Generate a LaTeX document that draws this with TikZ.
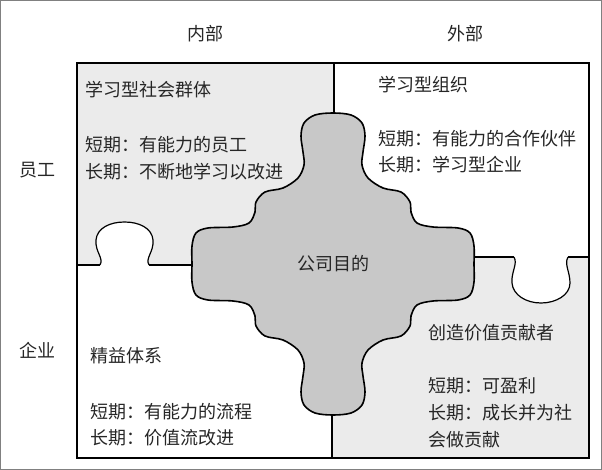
\documentclass[tikz,border=0pt]{standalone}
\usepackage{fontspec}
\setmainfont{Noto Sans CJK SC}
\definecolor{paneGray}{HTML}{EBEBEB}
\definecolor{blobGray}{HTML}{C8C8C8}
\begin{document}
\begin{tikzpicture}[x=1pt,y=-1pt,
  txt/.style={anchor=west, inner sep=0pt, text=black!85, font=\fontsize{18}{18}\selectfont},
  hdr/.style={inner sep=0pt, text=black!85, font=\fontsize{18}{18}\selectfont},
  edge/.style={draw=black, line width=1.2pt}]
\useasboundingbox (0,0) rectangle (602,470);
\draw[gray, line width=1.2pt] (0.6,0.6) rectangle (601.4,469.4);
% shaded quarters
\fill[paneGray] (77,63) rectangle (334,265);
\fill[paneGray] (332,257) rectangle (589,458);
% tab of the lower left quarter
\filldraw[fill=white, edge] (100,265) .. controls (104,258) and (95,252) .. (96,240)
  .. controls (97,228) and (110,222) .. (124.5,222)
  .. controls (139,222) and (152,228) .. (153,240)
  .. controls (154,252) and (145,258) .. (149,265);
% tab of the upper right quarter
\filldraw[fill=white, edge] (514,257) .. controls (518,264) and (511,272) .. (512,283)
  .. controls (513,295) and (526,303) .. (541,303)
  .. controls (556,303) and (570,295) .. (570,283)
  .. controls (570,272) and (564,264) .. (568,257);
\draw[edge] (77,63) rectangle (589,458);
\draw[edge] (334,63)--(334,120);
\draw[edge] (332,410)--(332,458);
\draw[edge] (77,265)--(100,265);
\draw[edge] (149,265)--(200,265);
\draw[edge] (470,257)--(514,257);
\draw[edge] (568,257)--(589,257);
% the cross in the middle
\filldraw[fill=blobGray, draw=black, line width=1.6pt] plot[smooth cycle, tension=0.55] coordinates {
  (333,113) (351,115) (362,123) (365,136) (363,152) (362,165) (368,178) (383,188)
  (401,192) (410,202) (411,212) (417,223) (433,227) (458,228) (470,233) (474,246)
  (474,264)
  (474,282) (470,295) (458,300) (433,301) (417,305) (411,316) (410,326) (401,336)
  (383,340) (368,350) (362,363) (363,376) (365,392) (362,405) (351,413)
  (333,415)
  (315,413) (304,405) (301,392) (303,376) (304,363) (298,350) (283,340) (265,336)
  (256,326) (255,316) (249,305) (233,301) (208,300) (196,295) (192,282)
  (192,264)
  (192,246) (196,233) (208,228) (233,227) (249,223) (255,212) (256,202) (265,192)
  (283,188) (298,178) (304,165) (303,152) (301,136) (304,123) (315,115)};
\node[hdr] (purpose) at (333,264) {公司目的};
% headings
\node[hdr] (inner) at (205,34) {内部};
\node[hdr] (outer) at (465,34) {外部};
\node[hdr] (staff) at (37,170) {员工};
\node[hdr] (firm) at (37,350) {企业};
% upper left
\node[txt] (tlTitle) at (85,90) {学习型社会群体};
\node[txt] (tlShort) at (85,145) {短期：有能力的员工};
\node[txt] (tlLong) at (85,172) {长期：不断地学习以改进};
% upper right
\node[txt] (trTitle) at (378,85) {学习型组织};
\node[txt] (trShort) at (378,139) {短期：有能力的合作伙伴};
\node[txt] (trLong) at (378,165) {长期：学习型企业};
% lower left
\node[txt] (blTitle) at (90,356) {精益体系};
\node[txt] (blShort) at (90,412) {短期：有能力的流程};
\node[txt] (blLong) at (90,438) {长期：价值流改进};
% lower right
\node[txt] (brTitle) at (428,333) {创造价值贡献者};
\node[txt] (brShort) at (428,386) {短期：可盈利};
\node[txt] (brLong) at (428,413) {长期：成长并为社};
\node[txt] (brMore) at (428,440) {会做贡献};
\end{tikzpicture}
\end{document}
